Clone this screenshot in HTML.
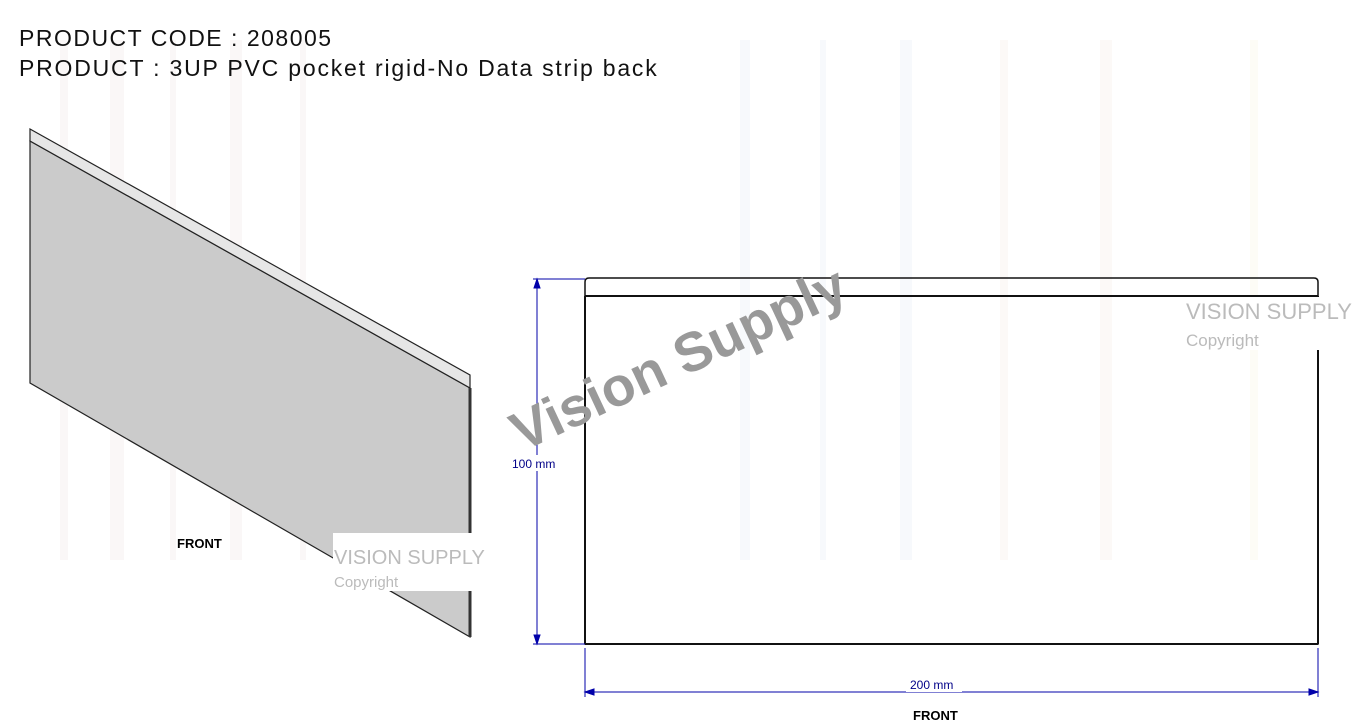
<!DOCTYPE html>
<html><head><style>
body{margin:0;width:1363px;height:724px;background:#fff;overflow:hidden;position:relative;font-family:"Liberation Sans",sans-serif}
.t{position:absolute;left:19px;font-size:23px;color:#111;line-height:30px;letter-spacing:1.5px}
</style></head><body>
<svg width="1363" height="724" style="position:absolute;left:0;top:0">
<g fill="#faf7f7">
<rect x="60" y="40" width="8" height="520"/><rect x="110" y="40" width="14" height="520"/><rect x="170" y="40" width="6" height="520"/><rect x="230" y="40" width="12" height="520"/><rect x="300" y="40" width="6" height="520"/>
<rect x="740" y="40" width="10" height="520" fill="#f7f9fc"/><rect x="820" y="40" width="6" height="520" fill="#f7f9fc"/><rect x="900" y="40" width="12" height="520" fill="#f7f9fc"/><rect x="1000" y="40" width="8" height="520" fill="#fcf9f7"/><rect x="1100" y="40" width="12" height="520" fill="#fcf9f7"/><rect x="1250" y="40" width="8" height="520" fill="#fdfcf6"/>
</g>
<polygon points="30,141 470,388 470,637 30,383" fill="#cbcbcb" stroke="#222" stroke-width="1.2"/>
<polygon points="30,129 470,375 470,388 30,141" fill="#e6e6e6" stroke="#222" stroke-width="1.2"/>
<line x1="470" y1="388" x2="470" y2="637" stroke="#333" stroke-width="3"/>
<path d="M585,644 V282 Q585,278 589,278 H1314 Q1318,278 1318,282 V644 Z" fill="none" stroke="#111" stroke-width="1.5"/>
<line x1="585" y1="296" x2="1318" y2="296" stroke="#111" stroke-width="2"/>
<line x1="585" y1="644" x2="1318" y2="644" stroke="#111" stroke-width="2"/>
<line x1="585" y1="296" x2="585" y2="644" stroke="#111" stroke-width="2"/>
<line x1="1318" y1="296" x2="1318" y2="644" stroke="#111" stroke-width="2"/>
<g stroke="#00a" stroke-width="1" fill="#00a">
<line x1="537" y1="279" x2="537" y2="644"/><line x1="533" y1="279" x2="585" y2="279"/><line x1="533" y1="644" x2="585" y2="644"/>
<polygon points="537,279 534,288 540,288"/><polygon points="537,644 534,635 540,635"/>
<line x1="585" y1="692" x2="1318" y2="692"/><line x1="585" y1="648" x2="585" y2="697"/><line x1="1318" y1="648" x2="1318" y2="697"/>
<polygon points="585,692 594,689 594,695"/><polygon points="1318,692 1309,689 1309,695"/>
</g>
<rect x="510" y="455" width="54" height="16" fill="#fff"/>
<rect x="906" y="677" width="56" height="15" fill="#fff"/>
<text x="512" y="468" font-size="12" fill="#008">100 mm</text>
<text x="910" y="689" font-size="12" fill="#008">200 mm</text>
<text x="913" y="720" font-size="13" font-weight="bold" fill="#000">FRONT</text>
<text x="177" y="548" font-size="13" font-weight="bold" fill="#000">FRONT</text>
<rect x="333" y="533" width="152" height="58" fill="#fff"/>
<text x="334" y="564" font-size="20" fill="#bbb">VISION SUPPLY</text>
<text x="334" y="587" font-size="15" fill="#bbb">Copyright</text>
<rect x="1182" y="297" width="175" height="53" fill="#fff"/>
<text x="1186" y="319" font-size="22" fill="#bbb">VISION SUPPLY</text>
<text x="1186" y="346" font-size="17" fill="#bbb">Copyright</text>
<text x="0" y="0" font-size="55" font-weight="bold" fill="#999" transform="translate(522,452) rotate(-25)">Vision Supply</text>
</svg>
<div class="t" style="top:23px">PRODUCT CODE : 208005</div>
<div class="t" style="top:53px;letter-spacing:1.8px">PRODUCT : 3UP PVC pocket rigid-No Data strip back</div>
</body></html>
